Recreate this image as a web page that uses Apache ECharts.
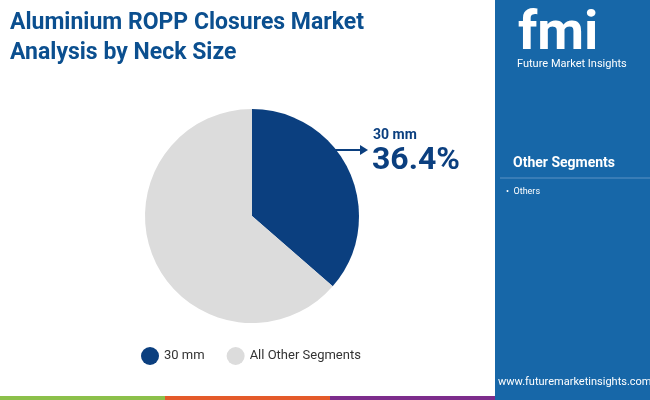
<!DOCTYPE html>
<html>
<head>
  <meta charset="UTF-8" />
  <title></title>
  <style type="text/css">
    * { margin: 0; padding: 0; }
    body { width: 650px; height: 400px; overflow: hidden; background: #fff; font-family: Roboto, sans-serif; }
    #main { width: 650px; height: 400px; }
  </style>
</head>
<body>
  <div id="main"></div>
</body>
<script src="https://cdn.jsdelivr.net/npm/echarts@6/dist/echarts.min.js"></script>
<script type="text/javascript">
  let categories = ['30 mm', 'All Other Segments']
  let values = [36.4, 63.6]
  let colors = ['#0b3f7f', '#dcdcdc']
  let sideItems = ['Others']

  let myChart = echarts.init(document.getElementById('main'))

  let option = {
    animation: false,
    graphic: [
      // right panel
      { type: 'rect', shape: { x: 495, y: 0, width: 155, height: 400 }, style: { fill: '#1767a8' } },
      { type: 'text', left: 518, top: 8, style: { text: 'fmi', font: 'bold 54px Roboto', fill: '#fff' } },
      { type: 'text', left: 517, top: 59, style: { text: 'Future Market Insights', font: '11px Roboto', fill: '#fff' } },
      { type: 'text', left: 513, top: 156, style: { text: 'Other Segments', font: 'bold 14px Roboto', fill: '#fff' } },
      { type: 'line', shape: { x1: 500, y1: 178, x2: 650, y2: 178 }, style: { stroke: '#5d93c4', lineWidth: 1 } },
      { type: 'text', left: 506, top: 187, style: { text: '•  ' + sideItems[0], font: '9px Roboto', fill: '#fff' } },
      { type: 'text', left: 498, top: 377, style: { text: 'www.futuremarketinsights.com', font: '11px Roboto', fill: '#fff' } },
      // title
      { type: 'text', left: 10, top: 8, style: { text: 'Aluminium ROPP Closures Market\nAnalysis by Neck Size', font: 'bold 23px Roboto', fill: '#0b4f8f', lineHeight: 30 } },
      // bottom strip
      { type: 'rect', shape: { x: 0, y: 396, width: 165, height: 4 }, style: { fill: '#8cc04a' } },
      { type: 'rect', shape: { x: 165, y: 396, width: 165, height: 4 }, style: { fill: '#e45a2a' } },
      { type: 'rect', shape: { x: 330, y: 396, width: 165, height: 4 }, style: { fill: '#7d2d8c' } },
      // callout
      { type: 'line', shape: { x1: 333, y1: 150, x2: 362, y2: 150 }, style: { stroke: '#0b3f7f', lineWidth: 2 } },
      { type: 'polygon', shape: { points: [[368, 150], [360, 145], [360, 155]] }, style: { fill: '#0b3f7f' } },
      { type: 'text', left: 373, top: 128, style: { text: categories[0], font: 'bold 14px Roboto', fill: '#0b3f7f' } },
      { type: 'text', left: 372, top: 145, style: { text: values[0] + '%', font: 'bold 32px Roboto', fill: '#0b3f7f' } }
    ],
    legend: {
      bottom: 30,
      left: 136,
      itemWidth: 18,
      itemHeight: 18,
      itemGap: 22,
      icon: 'circle',
      textStyle: { fontSize: 13, color: '#333', fontFamily: 'Roboto' },
      data: categories
    },
    series: [{
      type: 'pie',
      center: [252, 216],
      radius: [0, 107],
      startAngle: 90,
      clockwise: true,
      label: { show: false },
      labelLine: { show: false },
      itemStyle: { borderColor: '#fff', borderWidth: 0 },
      data: categories.map((c, i) => ({ name: c, value: values[i], itemStyle: { color: colors[i] } }))
    }]
  }
  myChart.setOption(option)
</script>
</html>
